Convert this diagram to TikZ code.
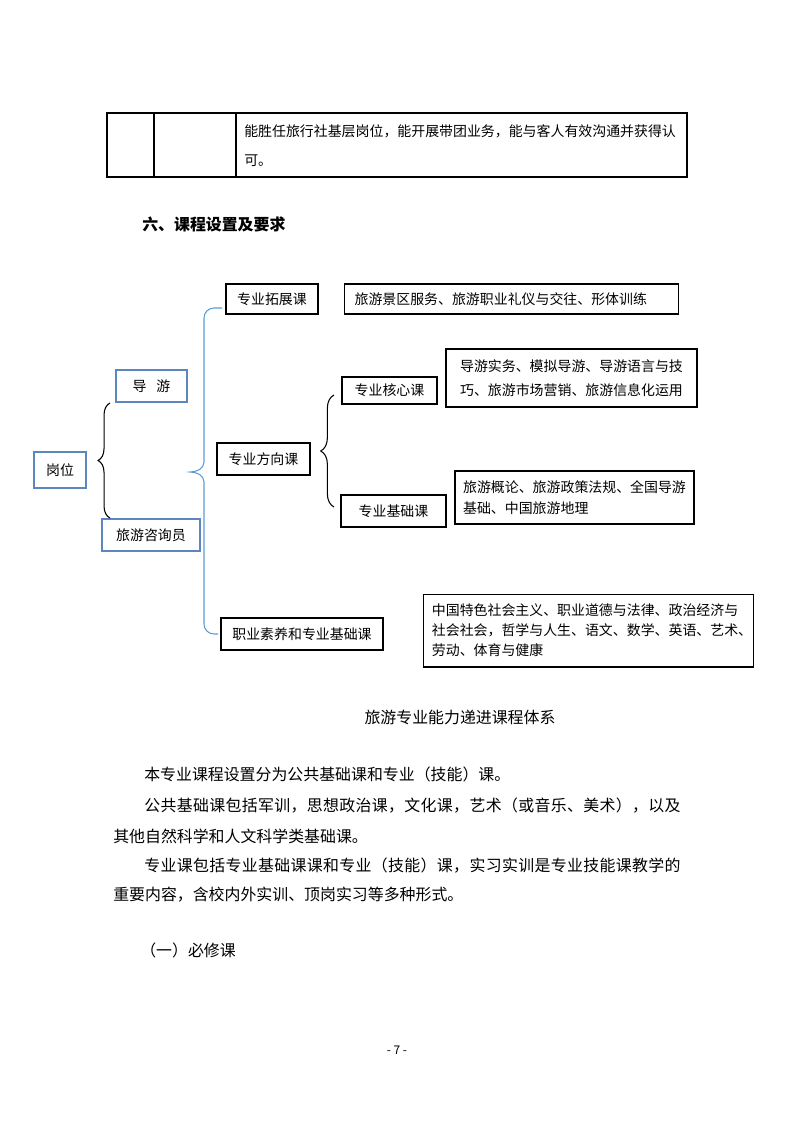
\documentclass[tikz,border=0pt]{standalone}
\usepackage{fontspec}
\setmainfont{Noto Sans CJK SC}
\usetikzlibrary{decorations.pathreplacing}
\definecolor{postblue}{RGB}{92,134,190}
\definecolor{braceblue}{RGB}{91,155,213}
\tikzset{
  postbox/.style={
    draw = postblue,
    line width = 1.4pt,
    inner sep = 0pt,
    font = \fontsize{10.5}{13}\selectfont
  },
  coursebox/.style={
    draw,
    line width = 0.9pt,
    inner sep = 0pt,
    font = \fontsize{10.5}{13}\selectfont
  },
  listbox/.style={
    draw,
    line width = 0.9pt,
    inner sep = 0pt,
    align = left,
    font = \fontsize{10.5}{16}\selectfont
  },
}
\tikzset{
  celltext/.style={
    anchor = west,
    inner sep = 0pt,
    font = \fontsize{10.5}{13}\selectfont
  },
  bodytext/.style={
    anchor = west,
    inner sep = 0pt,
    font = \fontsize{12}{14}\selectfont
  },
  fullline/.style={
    bodytext,
    font = \fontsize{12}{14}\selectfont\addfontfeatures{LetterSpace=2.2}
  },
  curly/.style={
    decorate,
    decoration = {brace, amplitude=#1},
    line width = 0.8pt
  },
  curly/.default = 9pt,
  bluebrace/.style={
    draw = braceblue,
    line width = 0.8pt
  }
}
\begin{document}
\begin{tikzpicture}[x=0.0265cm,y=-0.0265cm]
  \useasboundingbox (0,0) rectangle (793,1122);
  % last row of the table above
  \draw[line width=0.8pt] (107,113) rectangle (687,177);
  \foreach \x in {154,236}{
    \draw[line width=0.8pt] (\x,113) -- (\x,177);
  }
  \node[celltext] (row1) at (244,131) {能胜任旅行社基层岗位，能开展带团业务，能与客人有效沟通并获得认};
  \node[celltext] (row2) at (244,161) {可。};
  \node[bodytext,font=\fontsize{12}{14}\selectfont\bfseries] (title) at (142,224) {六、课程设置及要求};

  % posts
  \node[postbox,minimum width=1.38cm,minimum height=0.95cm] (post) at (60,470) {岗位};
  \node[postbox,minimum width=1.88cm,minimum height=0.85cm] (guide) at (151.5,386) {导\hspace{0.7em}游};
  \node[postbox,minimum width=2.60cm,minimum height=0.85cm] (consult) at (151,535) {旅游咨询员};
  \draw[curly=9pt] (110,518) -- (110,403);

  % course groups
  \node[coursebox,minimum width=2.44cm,minimum height=0.80cm] (ext) at (272,299) {专业拓展课};
  \node[coursebox,minimum width=2.46cm,minimum height=0.85cm] (dir) at (263.5,459) {专业方向课};
  \node[coursebox,minimum width=4.29cm,minimum height=0.85cm] (quality) at (302,634) {职业素养和专业基础课};
  \coordinate (toparm) at (222,308);
  \coordinate (tip) at (190,472);
  \coordinate (botarm) at (218,634);
  \draw[bluebrace] (toparm) -- (214,308) to[out=180,in=90] (204,318) -- (204,462)
    to[out=-90,in=0] (tip) to[out=0,in=90] (204,482) -- (204,624)
    to[out=-90,in=180] (214,634) -- (botarm);

  \node[coursebox,minimum width=2.52cm,minimum height=0.72cm] (core) at (389.5,390.5) {专业核心课};
  \node[coursebox,minimum width=2.78cm,minimum height=0.85cm] (basic) at (393.5,511) {专业基础课};
  \draw[curly=10pt] (334,507) -- (334,395);

  % course lists
  \node[listbox,anchor=west,text width=8.32cm,inner xsep=0.265cm,minimum height=0.80cm] (extlist) at (344,299) {旅游景区服务、旅游职业礼仪与交往、形体训练};
  \node[listbox,minimum width=6.65cm,minimum height=1.54cm,font=\fontsize{10.5}{18}\selectfont] (corelist) at (571.5,378) {导游实务、模拟导游、导游语言与技\\巧、旅游市场营销、旅游信息化运用};
  \node[listbox,minimum width=6.33cm,minimum height=1.40cm] (basiclist) at (574.5,497.5) {旅游概论、旅游政策法规、全国导游\\基础、中国旅游地理};
  \node[listbox,anchor=west,text width=8.3cm,inner xsep=0.22cm,minimum height=1.93cm,font=\fontsize{10.5}{15}\selectfont] (commonlist) at (423,630.5) {中国特色社会主义、职业道德与法律、政治经济与\\社会社会，哲学与人生、语文、数学、英语、艺术、\\劳动、体育与健康};

  \node[bodytext,anchor=center] (caption) at (460,717) {旅游专业能力递进课程体系};

  % text below
  \node[bodytext] (para1) at (144,774) {本专业课程设置分为公共基础课和专业（技能）课。};
  \node[fullline] (para2) at (144,806) {公共基础课包括军训，思想政治课，文化课，艺术（或音乐、美术），以及};
  \node[bodytext] (para2b) at (113,836) {其他自然科学和人文科学类基础课。};
  \node[fullline] (para3) at (144,866) {专业课包括专业基础课课和专业（技能）课，实习实训是专业技能课教学的};
  \node[bodytext] (para3b) at (113,895) {重要内容，含校内外实训、顶岗实习等多种形式。};
  \node[bodytext] (sub) at (140,950) {（一）必修课};
  \node[bodytext,anchor=center,font=\fontsize{9}{11}\selectfont] (page) at (397,1050) {- 7 -};
\end{tikzpicture}
\end{document}
